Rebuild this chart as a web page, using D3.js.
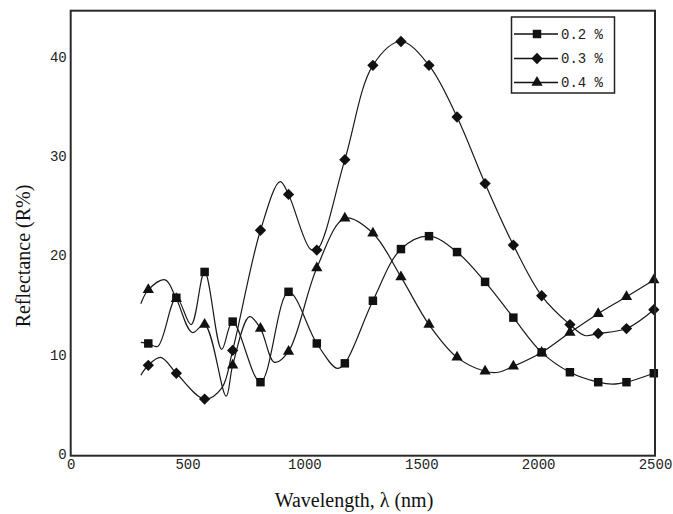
<!DOCTYPE html>
<html>
<head>
<meta charset="utf-8">
<script src="https://cdn.jsdelivr.net/npm/d3@7"></script>
<style>
  body { margin: 0; background: #fff; }
  svg { display: block; }
</style>
</head>
<body>
<script>
// marker positions (nm) shared by all three samples
var wavelengths = [332, 452, 573, 693, 812, 932, 1053, 1173, 1293, 1413, 1533, 1653, 1773, 1894, 2015, 2136, 2257, 2378, 2495];

// reflectance at the markers
var r02 = [11.3, 15.9, 18.5, 13.5, 7.4, 16.5, 11.3, 9.3, 15.6, 20.8, 22.1, 20.5, 17.5, 13.9, 10.4, 8.4, 7.4, 7.4, 8.3];
var r03 = [9.1, 8.3, 5.7, 10.6, 22.7, 26.3, 20.7, 29.8, 39.3, 41.7, 39.3, 34.1, 27.4, 21.2, 16.1, 13.2, 12.3, 12.8, 14.7];
var r04 = [16.7, 15.8, 13.2, 9.1, 12.8, 10.5, 18.9, 23.9, 22.4, 18.0, 13.2, 9.9, 8.5, 9.0, 10.4, 12.4, 14.3, 16.0, 17.7];

// extra points on the curves between markers (no symbol drawn)
var bends02 = [[300, 11.4], [372, 11.0], [515, 13.2], [646, 10.7], [1140, 8.8], [2318, 7.2]];
var bends03 = [[300, 8.1], [385, 9.9], [646, 6.8], [896, 27.6], [1025, 20.8], [2200, 12.1]];
var bends04 = [[300, 15.3], [404, 17.7], [520, 12.4], [665, 6.0], [765, 14.0], [872, 9.4], [1830, 8.4]];

var legendLabels = ["0.2 %", "0.3 %", "0.4 %"];
var xTicks = [0, 500, 1000, 1500, 2000, 2500];
var yTicks = [0, 10, 20, 30, 40];

var width = 673, height = 514;
var svg = d3.select("body").append("svg")
    .attr("width", width)
    .attr("height", height);

var x = d3.scaleLinear().domain([0, 2500]).range([70.7, 655]);
var y = d3.scaleLinear().domain([0, 44.8]).range([455.7, 10.7]);

// build series: markers + bends, sorted by wavelength for the line
function makeSeries(vals, bends, shape) {
  var marks = wavelengths.map(function(w, i) { return [w, vals[i]]; });
  var curve = marks.concat(bends).sort(function(a, b) { return a[0] - b[0]; });
  return { marks: marks, curve: curve, shape: shape };
}
var series = [
  makeSeries(r02, bends02, "square"),
  makeSeries(r03, bends03, "diamond"),
  makeSeries(r04, bends04, "triangle")
];

var line = d3.line()
    .x(function(d) { return x(d[0]); })
    .y(function(d) { return y(d[1]); })
    .curve(d3.curveCatmullRom.alpha(0.5));

svg.append("clipPath").attr("id", "plot")
  .append("rect")
    .attr("x", 70.7).attr("y", 10.7)
    .attr("width", 655 - 70.7).attr("height", 455.7 - 10.7);

function symbolPath(shape) {
  if (shape == "square") return d3.symbol().type(d3.symbolSquare).size(72)();
  if (shape == "diamond") return d3.symbol().type(d3.symbolSquare).size(64)();
  return d3.symbol().type(d3.symbolTriangle).size(55)();
}
function symbolTransform(shape, px, py) {
  if (shape == "diamond") return "translate(" + px + "," + py + ") rotate(45)";
  return "translate(" + px + "," + py + ")";
}

var plot = svg.append("g").attr("clip-path", "url(#plot)");

series.forEach(function(s) {
  plot.append("path")
      .datum(s.curve)
      .attr("d", line)
      .attr("fill", "none")
      .attr("stroke", "#1a1a1a")
      .attr("stroke-width", 1.2);
});

series.forEach(function(s) {
  svg.append("g").selectAll("path")
      .data(s.marks)
      .enter()
      .append("path")
        .attr("d", symbolPath(s.shape))
        .attr("transform", function(d) { return symbolTransform(s.shape, x(d[0]), y(d[1])); })
        .attr("fill", "#111");
});

// frame
svg.append("rect")
    .attr("x", 70.7).attr("y", 10.7)
    .attr("width", 655 - 70.7).attr("height", 455.7 - 10.7)
    .attr("fill", "none")
    .attr("stroke", "#2a2a2a")
    .attr("stroke-width", 2);

// axes (labels only, no tick marks)
var xAxis = svg.append("g")
    .attr("transform", "translate(0,455.7)")
    .call(d3.axisBottom(x).tickValues(xTicks).tickSize(0).tickPadding(3).tickFormat(d3.format("d")));
var yAxis = svg.append("g")
    .attr("transform", "translate(70.7,0)")
    .call(d3.axisLeft(y).tickValues(yTicks).tickSize(0).tickPadding(4).tickFormat(d3.format("d")));
[xAxis, yAxis].forEach(function(a) {
  a.select(".domain").remove();
  a.selectAll("text")
      .attr("font-family", "'Liberation Mono', monospace")
      .attr("font-size", 14)
      .attr("fill", "#222");
});
yAxis.selectAll("text").attr("dy", "0.2em");

// axis titles
svg.append("text")
    .attr("x", 354).attr("y", 507)
    .attr("text-anchor", "middle")
    .attr("font-family", "'Liberation Serif', 'Times New Roman', serif")
    .attr("font-size", 20)
    .attr("fill", "#111")
    .text("Wavelength, λ (nm)");
svg.append("text")
    .attr("transform", "translate(30,256) rotate(-90)")
    .attr("text-anchor", "middle")
    .attr("font-family", "'Liberation Serif', 'Times New Roman', serif")
    .attr("font-size", 20)
    .attr("fill", "#111")
    .text("Reflectance (R%)");

// legend
var legend = svg.append("g");
legend.append("rect")
    .attr("x", 511.5).attr("y", 17)
    .attr("width", 103).attr("height", 76)
    .attr("fill", "#fff")
    .attr("stroke", "#222")
    .attr("stroke-width", 1.5);
var rowY = [34, 58.5, 82.5];
series.forEach(function(s, i) {
  legend.append("line")
      .attr("x1", 514).attr("x2", 558)
      .attr("y1", rowY[i]).attr("y2", rowY[i])
      .attr("stroke", "#111").attr("stroke-width", 1.4);
  legend.append("path")
      .attr("d", symbolPath(s.shape))
      .attr("transform", symbolTransform(s.shape, 537, rowY[i]))
      .attr("fill", "#111");
  legend.append("text")
      .attr("x", 561).attr("y", rowY[i])
      .attr("dy", "0.35em")
      .attr("font-family", "'Liberation Mono', monospace")
      .attr("font-size", 14)
      .attr("fill", "#222")
      .text(legendLabels[i]);
});
</script>
</body>
</html>
